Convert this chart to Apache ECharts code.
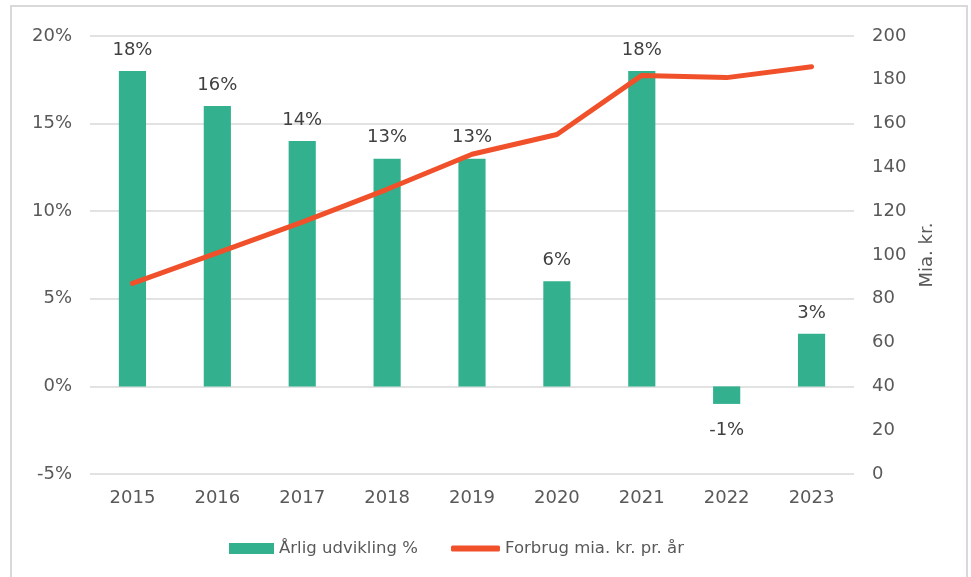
<!DOCTYPE html>
<html>
<head>
<meta charset="utf-8">
<script src="https://cdn.jsdelivr.net/npm/echarts@6/dist/echarts.min.js"></script>
<style>
  html, body { margin: 0; padding: 0; background: #fff; }
  #chart { width: 971px; height: 577px; }
</style>
</head>
<body>
<div id="chart"></div>
<script>
var years = ["2015", "2016", "2017", "2018", "2019", "2020", "2021", "2022", "2023"];
var growthPct = [18, 16, 14, 13, 13, 6, 18, -1, 3];
var spending = [87, 101, 115, 130, 146, 155, 182, 181, 186];

var mychart = echarts.init(document.getElementById("chart"));
var font = "DejaVu Sans, Verdana, sans-serif";
var grey = "#595959";

var option = {
  animation: false,
  textStyle: { fontFamily: font },
  graphic: [
    {
      type: "rect",
      shape: { x: 11, y: 6, width: 956, height: 580 },
      style: { fill: "none", stroke: "#d9d9d9", lineWidth: 2 },
      silent: true,
    },
  ],
  grid: { left: 90, right: 117, top: 36, bottom: 103 },
  // two legends so each icon gets its own height
  legend: [
    {
      left: 224,
      top: 535,
      itemWidth: 45,
      itemHeight: 11,
      textStyle: { fontSize: 16.5, color: grey, fontFamily: font },
      data: [{ name: "Årlig udvikling %", icon: "rect" }],
    },
    {
      left: 446,
      top: 535,
      itemWidth: 49,
      itemHeight: 6,
      textStyle: { fontSize: 16.5, color: grey, fontFamily: font },
      data: [{ name: "Forbrug mia. kr. pr. år", icon: "roundRect" }],
    },
  ],
  xAxis: {
    type: "category",
    data: years,
    axisLine: { show: false },
    axisTick: { show: false },
    axisLabel: { fontSize: 18, color: grey, margin: 15 },
  },
  yAxis: [
    {
      type: "value",
      min: -5,
      max: 20,
      interval: 5,
      axisLabel: { fontSize: 18, color: grey, margin: 18, formatter: "{value}%" },
      splitLine: { lineStyle: { color: "#d9d9d9", width: 1.5 } },
      axisLine: { show: false },
      axisTick: { show: false },
    },
    {
      type: "value",
      min: 0,
      max: 200,
      interval: 20,
      name: "Mia. kr.",
      nameLocation: "middle",
      nameRotate: 90,
      nameGap: 64,
      nameTextStyle: { fontSize: 18, color: grey },
      axisLabel: { fontSize: 18, color: grey, margin: 18 },
      splitLine: { show: false },
      axisLine: { show: false },
      axisTick: { show: false },
    },
  ],
  series: [
    {
      name: "Årlig udvikling %",
      type: "bar",
      yAxisIndex: 0,
      barWidth: "32%",
      itemStyle: { color: "#33b18f" },
      label: {
        show: true,
        position: "top",
        distance: 12,
        fontSize: 18,
        color: "#404040",
        formatter: "{c}%",
      },
      data: growthPct.map(function (v) {
        return v < 0
          ? { value: v, label: { position: "bottom", distance: 17 } }
          : v;
      }),
      z: 2,
    },
    {
      name: "Forbrug mia. kr. pr. år",
      type: "line",
      yAxisIndex: 1,
      data: spending,
      symbol: "none",
      lineStyle: { color: "#f0512b", width: 5, cap: "round", join: "round" },
      itemStyle: { color: "#f0512b" },
      z: 3,
    },
  ],
};
mychart.setOption(option, true);
</script>
</body>
</html>
